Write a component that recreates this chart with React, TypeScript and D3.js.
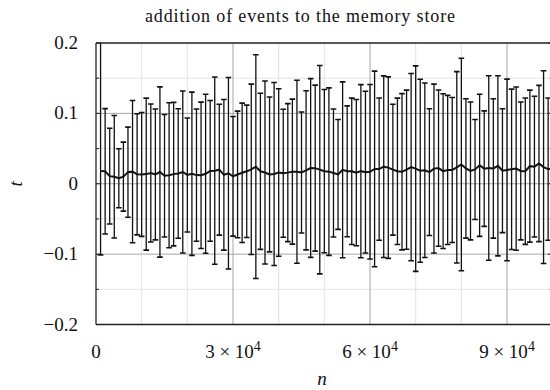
import React, { useEffect } from "react";
import * as d3 from "d3";

const title = "addition of events to the memory store";

// n (number of events), one bar every 1000
const nValues = [
  1000, 2000, 3000, 4000, 5000, 6000, 7000, 8000, 9000, 10000,
  11000, 12000, 13000, 14000, 15000, 16000, 17000, 18000, 19000, 20000,
  21000, 22000, 23000, 24000, 25000, 26000, 27000, 28000, 29000, 30000,
  31000, 32000, 33000, 34000, 35000, 36000, 37000, 38000, 39000, 40000,
  41000, 42000, 43000, 44000, 45000, 46000, 47000, 48000, 49000, 50000,
  51000, 52000, 53000, 54000, 55000, 56000, 57000, 58000, 59000, 60000,
  61000, 62000, 63000, 64000, 65000, 66000, 67000, 68000, 69000, 70000,
  71000, 72000, 73000, 74000, 75000, 76000, 77000, 78000, 79000, 80000,
  81000, 82000, 83000, 84000, 85000, 86000, 87000, 88000, 89000, 90000,
  91000, 92000, 93000, 94000, 95000, 96000, 97000, 98000, 99000, 100000,
];

// mean time t
const meanT = [
  0.018, 0.0177, 0.0108, 0.0099, 0.0078, 0.0101, 0.0165, 0.0172, 0.0134, 0.0132,
  0.0137, 0.0153, 0.0132, 0.0167, 0.0113, 0.012, 0.0137, 0.0146, 0.0167, 0.0125,
  0.0142, 0.0123, 0.012, 0.0142, 0.0182, 0.0186, 0.02, 0.0127, 0.0149, 0.0106,
  0.0132, 0.0156, 0.0177, 0.0205, 0.0243, 0.0177, 0.016, 0.0132, 0.0139, 0.016,
  0.0149, 0.0158, 0.0172, 0.017, 0.016, 0.0191, 0.0224, 0.0222, 0.02, 0.0179,
  0.0172, 0.0153, 0.0132, 0.0198, 0.0177, 0.0177, 0.0158, 0.0179, 0.0165, 0.017,
  0.021, 0.0208, 0.0243, 0.0229, 0.02, 0.0177, 0.017, 0.02, 0.0236, 0.0215,
  0.0184, 0.0191, 0.0165, 0.0215, 0.0222, 0.0179, 0.0196, 0.0196, 0.0233, 0.0274,
  0.0217, 0.0182, 0.0203, 0.0262, 0.0215, 0.0224, 0.0217, 0.0255, 0.0186, 0.0196,
  0.0205, 0.0215, 0.0182, 0.0179, 0.025, 0.0243, 0.0288, 0.0236, 0.0208, 0.021,
];

// error bar length above the mean
const errPlus = [
  0.19, 0.089, 0.068, 0.087, 0.042, 0.049, 0.064, 0.101, 0.086, 0.088,
  0.108, 0.098, 0.093, 0.121, 0.087, 0.103, 0.102, 0.092, 0.115, 0.081,
  0.116, 0.094, 0.104, 0.113, 0.1, 0.133, 0.093, 0.107, 0.136, 0.085,
  0.09, 0.099, 0.094, 0.121, 0.159, 0.111, 0.13, 0.11, 0.13, 0.119,
  0.091, 0.098, 0.103, 0.13, 0.086, 0.113, 0.127, 0.118, 0.148, 0.116,
  0.119, 0.091, 0.078, 0.125, 0.093, 0.104, 0.104, 0.123, 0.115, 0.124,
  0.139, 0.101, 0.129, 0.129, 0.093, 0.104, 0.111, 0.113, 0.133, 0.146,
  0.13, 0.124, 0.09, 0.12, 0.111, 0.11, 0.106, 0.103, 0.136, 0.151,
  0.099, 0.098, 0.071, 0.101, 0.082, 0.131, 0.099, 0.128, 0.088, 0.129,
  0.114, 0.116, 0.098, 0.104, 0.108, 0.1, 0.111, 0.137, 0.101, 0.085,
];

// error bar length below the mean
const errMinus = [
  0.119, 0.089, 0.068, 0.087, 0.042, 0.049, 0.064, 0.101, 0.086, 0.088,
  0.108, 0.098, 0.093, 0.121, 0.087, 0.103, 0.102, 0.092, 0.115, 0.081,
  0.116, 0.094, 0.104, 0.113, 0.1, 0.133, 0.093, 0.107, 0.136, 0.085,
  0.09, 0.099, 0.094, 0.121, 0.159, 0.111, 0.13, 0.11, 0.13, 0.119,
  0.091, 0.098, 0.103, 0.13, 0.086, 0.113, 0.127, 0.118, 0.148, 0.116,
  0.119, 0.091, 0.078, 0.125, 0.093, 0.104, 0.104, 0.123, 0.115, 0.124,
  0.139, 0.101, 0.129, 0.129, 0.093, 0.104, 0.111, 0.113, 0.133, 0.146,
  0.13, 0.124, 0.09, 0.12, 0.111, 0.11, 0.106, 0.103, 0.136, 0.151,
  0.099, 0.098, 0.071, 0.101, 0.082, 0.131, 0.099, 0.128, 0.088, 0.129,
  0.114, 0.116, 0.098, 0.104, 0.108, 0.1, 0.111, 0.137, 0.101, 0.085,
];

const yTicks = [-0.2, -0.1, 0, 0.1, 0.2];
const yTickLabels = ["\u22120.2", "\u22120.1", "0", "0.1", "0.2"];
const yMinor = [-0.15, -0.05, 0.05, 0.15];
const xTicks = [0, 30000, 60000, 90000];
const xTickMantissa = ["0", "3 \u00d7 10", "6 \u00d7 10", "9 \u00d7 10"];
const xTickExp = ["", "4", "4", "4"];
const xMinor = [10000, 20000, 40000, 50000, 70000, 80000, 100000];

const font = "'Liberation Serif', 'DejaVu Serif', serif";

export default function App() {
  useEffect(() => {
    document.body.style.margin = "0";
  }, []);

  const W = 550;
  const H = 390;
  const left = 96;
  const right = 552.7;
  const top = 43;
  const bottom = 324.5;

  const x = d3.scaleLinear().domain([0, 100000]).range([left, right]);
  const y = d3.scaleLinear().domain([-0.2, 0.2]).range([bottom, top]);

  const line = d3
    .line<number>()
    .x((_, i) => x(nValues[i]))
    .y((d) => y(d));

  const cap = 2.8;
  const major = 5;
  const minor = 3;

  return (
    <svg width={W} height={H} style={{ display: "block", background: "#fff" }}>
      <defs>
        <clipPath id="plotClip">
          <rect x={left} y={top} width={right - left} height={bottom - top} />
        </clipPath>
      </defs>

      {/* grid */}
      <g>
        {xMinor.map((v) => (
          <line key={"xm" + v} x1={x(v)} x2={x(v)} y1={top} y2={bottom} stroke="#e3e3e3" strokeWidth={1} />
        ))}
        {yMinor.map((v) => (
          <line key={"ym" + v} x1={left} x2={right} y1={y(v)} y2={y(v)} stroke="#e3e3e3" strokeWidth={1} />
        ))}
        {xTicks.slice(1).map((v) => (
          <line key={"xg" + v} x1={x(v)} x2={x(v)} y1={top} y2={bottom} stroke="#a6a6a6" strokeWidth={1} />
        ))}
        {yTicks.slice(1, -1).map((v) => (
          <line key={"yg" + v} x1={left} x2={right} y1={y(v)} y2={y(v)} stroke="#a6a6a6" strokeWidth={1} />
        ))}
      </g>

      {/* error bars and mean */}
      <g clipPath="url(#plotClip)">
        {nValues.map((n, i) => {
          const cx = x(n);
          const hi = y(meanT[i] + errPlus[i]);
          const lo = y(meanT[i] - errMinus[i]);
          return (
            <g key={n} stroke="#111" strokeWidth={1.3}>
              <line x1={cx} x2={cx} y1={hi} y2={lo} />
              <line x1={cx - cap} x2={cx + cap} y1={hi} y2={hi} strokeWidth={1.6} />
              <line x1={cx - cap} x2={cx + cap} y1={lo} y2={lo} strokeWidth={1.6} />
            </g>
          );
        })}
        <path d={line(meanT) ?? ""} fill="none" stroke="#111" strokeWidth={2} />
      </g>

      {/* ticks */}
      <g stroke="#222" strokeWidth={1}>
        {yTicks.map((v) => (
          <g key={"yt" + v}>
            <line x1={left} x2={left + major} y1={y(v)} y2={y(v)} />
            <line x1={right} x2={right - major} y1={y(v)} y2={y(v)} />
          </g>
        ))}
        {yMinor.map((v) => (
          <g key={"ymt" + v}>
            <line x1={left} x2={left + minor} y1={y(v)} y2={y(v)} />
            <line x1={right} x2={right - minor} y1={y(v)} y2={y(v)} />
          </g>
        ))}
      </g>

      {/* frame */}
      <g stroke="#222" strokeWidth={1.6} fill="none">
        <line x1={left} x2={right} y1={top} y2={top} />
        <line x1={left} x2={right} y1={bottom} y2={bottom} />
        <line x1={left} x2={left} y1={top} y2={bottom} strokeWidth={1.3} />
        <line x1={right} x2={right} y1={top} y2={bottom} strokeWidth={1.3} />
      </g>

      {/* y tick labels */}
      <g fontFamily={font} fontSize={19} fill="#111" textAnchor="end">
        {yTicks.map((v, i) => (
          <text key={"yl" + v} x={78} y={y(v) + 6}>
            {yTickLabels[i]}
          </text>
        ))}
      </g>

      {/* x tick labels */}
      <g fontFamily={font} fontSize={19} fill="#111" textAnchor="middle">
        {xTicks.map((v, i) => (
          <text key={"xl" + v} x={x(v)} y={358}>
            {xTickMantissa[i]}
            {xTickExp[i] && (
              <tspan fontSize={14} dy={-7}>
                {xTickExp[i]}
              </tspan>
            )}
          </text>
        ))}
      </g>

      {/* axis labels */}
      <text x={322} y={385} fontFamily={font} fontSize={19} fontStyle="italic" textAnchor="middle" fill="#111">
        n
      </text>
      <text
        transform={`translate(22,${y(0)}) rotate(-90)`}
        fontFamily={font}
        fontSize={19}
        fontStyle="italic"
        textAnchor="middle"
        fill="#111"
      >
        t
      </text>

      {/* title */}
      <text
        x={300}
        y={22}
        fontFamily={font}
        fontSize={18}
        textAnchor="middle"
        fill="#111"
        textLength={310}
        lengthAdjust="spacing"
      >
        {title}
      </text>
    </svg>
  );
}
